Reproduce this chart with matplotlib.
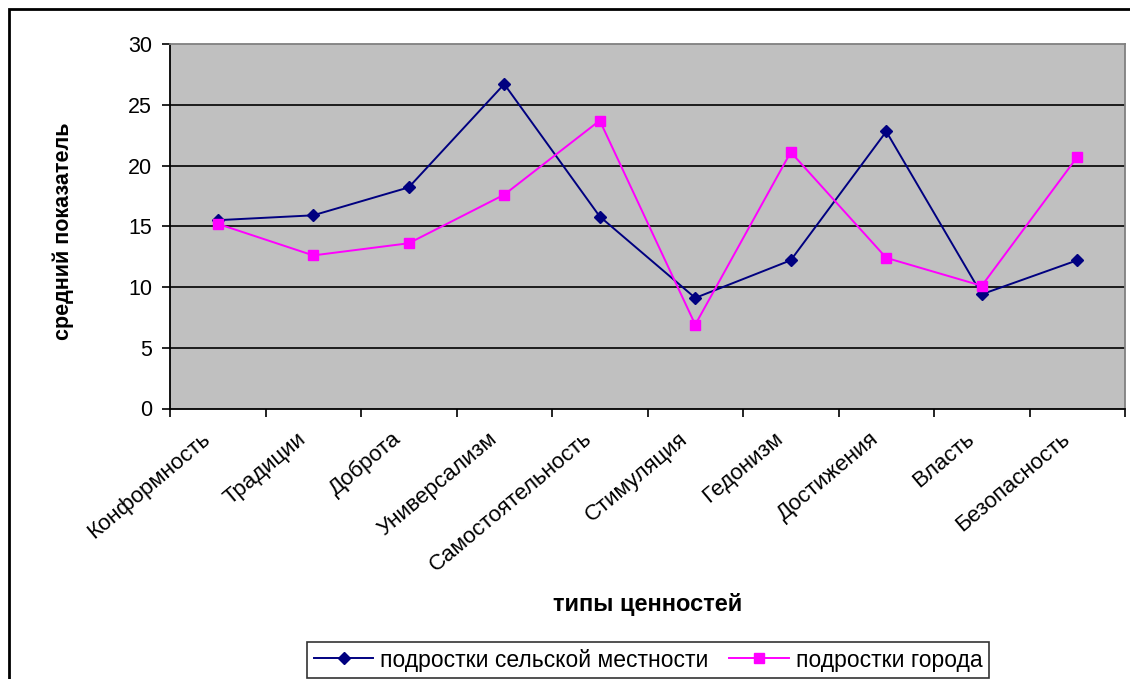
import matplotlib.pyplot as plt
import matplotlib.transforms as mtransforms
from matplotlib.patches import Rectangle
import numpy as np

plt.rcParams['font.family'] = ['Liberation Sans', 'DejaVu Sans']

# Data
categories = ['Конформность', 'Традиции', 'Доброта', 'Универсализм', 'Самостоятельность',
              'Стимуляция', 'Гедонизм', 'Достижения', 'Власть', 'Безопасность']
rural = [15.5, 15.9, 18.2, 26.7, 15.8, 9.1, 12.2, 22.8, 9.4, 12.2]
city = [15.2, 12.6, 13.6, 17.6, 23.7, 6.9, 21.1, 12.4, 10.1, 20.7]
rural_label = 'подростки сельской местности'
city_label = 'подростки города'
y_ticks = [0, 5, 10, 15, 20, 25, 30]

fig = plt.figure(figsize=(11.3, 6.79), dpi=100)
ax = fig.add_axes([170 / 1130, 1 - 408.5 / 679, 955 / 1130, 364.5 / 679])
ax.set_facecolor('#C0C0C0')

x = np.arange(len(categories))
ax.plot(x, rural, color='#000080', lw=1.4, marker='D', ms=6.5, mfc='#000080', mec='#000080',
        label=rural_label, zorder=3)
ax.plot(x, city, color='#FF00FF', lw=1.4, marker='s', ms=7.5, mfc='#FF00FF', mec='#FF00FF',
        label=city_label, zorder=3)

ax.set_xlim(-0.5, len(categories) - 0.5)
ax.set_ylim(0, 30)
ax.set_yticks(y_ticks)
ax.set_yticklabels([str(v) for v in y_ticks], fontsize=15.5)
for v in y_ticks[1:-1]:
    ax.axhline(v, color='black', lw=1.2, zorder=1)

# tick marks sit between categories, labels under the category centres
ax.set_xticks(np.arange(len(categories) + 1) - 0.5)
ax.set_xticklabels([])
ax.set_xticks(x, minor=True)
ax.set_xticklabels(categories, minor=True, rotation=40, ha='right', va='center',
                   rotation_mode='anchor', fontsize=16)
ax.tick_params(axis='x', which='major', length=6, width=1.2, direction='out')
ax.tick_params(axis='x', which='minor', length=0, pad=20)
ax.tick_params(axis='y', length=6, width=1.2, direction='out', pad=7)

# nudge the slanted labels left (after tick_params, which resets transforms)
shift = mtransforms.ScaledTranslation(-0.1, 0, fig.dpi_scale_trans)
for lbl in ax.get_xticklabels(minor=True):
    lbl.set_transform(lbl.get_transform() + shift)

for side in ['left', 'bottom']:
    ax.spines[side].set_color('black')
    ax.spines[side].set_linewidth(1.3)
for side in ['top', 'right']:
    ax.spines[side].set_color('#808080')
    ax.spines[side].set_linewidth(1.3)

ax.set_ylabel('средний показатель', fontsize=15.5, fontweight='bold')
ax.yaxis.set_label_coords(-0.100, 0.485)
ax.set_xlabel('типы ценностей', fontsize=17, fontweight='bold')
ax.xaxis.label.set_va('center')
ax.xaxis.set_label_coords(0.5, -0.538)

leg = fig.legend(loc='center', bbox_to_anchor=(648 / 1130, 1 - 660 / 679), ncol=2,
                 fontsize=16.5, frameon=True, fancybox=False, edgecolor='black',
                 handlelength=2.6, handletextpad=0.3, columnspacing=0.9,
                 borderpad=0.3, borderaxespad=0)
leg.get_frame().set_linewidth(1.2)

# Outer chart frame
fig.patches.append(Rectangle((9 / 1130, -0.1), 1.2, 1 - 9 / 679 + 0.1,
                             transform=fig.transFigure, fill=False,
                             edgecolor='black', lw=2, clip_on=False))

fig.savefig('out.png', dpi=100)
